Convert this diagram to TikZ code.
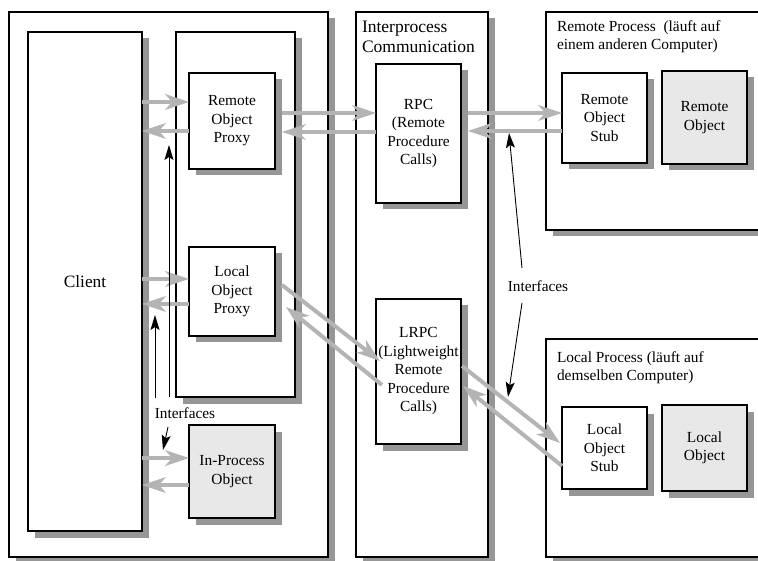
\documentclass[tikz,border=0pt]{standalone}
\usepackage{fontspec}
\setmainfont{Liberation Serif}
\usetikzlibrary{arrows.meta,shadows,calc}
\definecolor{shd}{HTML}{969696}
\definecolor{arr}{HTML}{B4B4B4}
\definecolor{lfill}{HTML}{E8E8E8}
\tikzset{
  box/.style={draw=black, line width=1.1pt, fill=white, rectangle, inner sep=0pt, outer sep=0pt,
    anchor=north west, align=center, font=\fontsize{15.4}{18.5}\selectfont,
    general shadow={fill=shd, shadow xshift=6.5pt, shadow yshift=-6.5pt}},
  objbox/.style={box, fill=lfill},
  hdr/.style={inner sep=0pt, outer sep=0pt, anchor=north west, align=left},
  lbl/.style={inner sep=0pt, outer sep=0pt, font=\fontsize{15.3}{18}\selectfont},
  garrow/.style={draw=arr, line width=4pt, -{Stealth[length=24pt,width=16pt,inset=7pt,line width=0pt]}},
  barrow/.style={draw=black, line width=0.9pt, -{Stealth[length=15pt,width=9pt,inset=3pt]}}
}
\begin{document}
\begin{tikzpicture}[x=1pt,y=-1pt]
\clip (0,0) rectangle (758,561);
\fill[white] (0,0) rectangle (758,561);
% left process
\node[box, minimum width=319pt, minimum height=545pt] (outer) at (9,12) {};
\node[box, minimum width=114pt, minimum height=499pt, font=\fontsize{17.3}{20}\selectfont] (client) at (28,32) {Client};
\node[box, minimum width=119pt, minimum height=365pt] (proxybox) at (176,32) {};
\node[box, minimum width=86pt, minimum height=96pt] (rop) at (189,73) {Remote\\Object\\Proxy};
\node[box, minimum width=86pt, minimum height=89pt] (lop) at (189,247) {Local\\Object\\Proxy};
\node[objbox, minimum width=86pt, minimum height=93pt] (inproc) at (189,425) {In-Process\\Object};
% interprocess communication
\node[box, minimum width=132pt, minimum height=545pt] (ipc) at (356,12) {};
\node[hdr, font=\fontsize{17.5}{20}\selectfont] (ipcl) at (362,21) {Interprocess\\Communication};
\node[box, minimum width=85pt, minimum height=139pt] (rpc) at (376,64) {RPC\\(Remote\\Procedure\\Calls)};
\node[box, minimum width=85pt, minimum height=145pt] (lrpc) at (376,299) {LRPC\\(Lightweight\\Remote\\Procedure\\Calls)};
% remote process
\node[box, minimum width=224pt, minimum height=218pt] (remproc) at (546,12) {};
\node[hdr, font=\fontsize{15.4}{18.5}\selectfont] (rempl) at (557,20.5) {Remote Process\ \ (läuft auf\\einem anderen Computer)};
\node[box, minimum width=85pt, minimum height=90pt] (ros) at (562,73) {Remote\\Object\\Stub};
\node[objbox, minimum width=85pt, minimum height=93pt] (ro) at (662,71) {Remote\\Object};
% local process
\node[box, minimum width=224pt, minimum height=218pt] (locproc) at (546,339) {};
\node[hdr, font=\fontsize{15.4}{18.5}\selectfont] (locpl) at (557,351.5) {Local Process (läuft auf\\demselben Computer)};
\node[box, minimum width=85pt, minimum height=82pt] (los) at (562,407) {Local\\Object\\Stub};
\node[objbox, minimum width=85pt, minimum height=86pt] (lo) at (662,405) {Local\\Object};
% labels
\node[lbl] (ifl) at (185,413) {Interfaces};
\node[lbl] (ifr) at (538,286) {Interfaces};
% gray arrows
\draw[garrow] (client.east |- 0,102) -- (rop.west |- 0,102);
\draw[garrow] (rop.west |- 0,131) -- (client.east |- 0,131);
\draw[garrow] ($(rop.east |- 0,113)+(7,0)$) -- (rpc.west |- 0,113);
\draw[garrow] (rpc.west |- 0,132) -- ($(rop.east |- 0,132)+(7,0)$);
\draw[garrow] ($(rpc.east |- 0,113)+(7,0)$) -- (ros.west |- 0,113);
\draw[garrow] (ros.west |- 0,131) -- ($(rpc.east |- 0,131)+(7,0)$);
\draw[garrow] (client.east |- 0,279) -- (lop.west |- 0,279);
\draw[garrow] (lop.west |- 0,304) -- (client.east |- 0,304);
\draw[garrow] ($(lop.north east)+(7,38)$) -- ($(lrpc.north west)+(4,62)$);
\draw[garrow] ($(lrpc.north west)+(6,86)$) -- ($(lop.north east)+(11,60)$);
\draw[garrow] ($(lrpc.north east)+(1,67)$) -- ($(los.north west)+(-2,36)$);
\draw[garrow] ($(los.north west)+(0,59)$) -- ($(lrpc.north east)+(2,87)$);
\draw[garrow] (client.east |- 0,458) -- (inproc.west |- 0,458);
\draw[garrow] (inproc.west |- 0,485) -- (client.east |- 0,485);
% black interface arrows
\coordinate (a1s) at (169,397); \coordinate (a1e) at (169,145);
\coordinate (a2s) at (155,398); \coordinate (a2e) at (155,315);
\coordinate (a3s) at (168,427); \coordinate (a3e) at (163,450);
\coordinate (a4s) at (522,268); \coordinate (a4e) at (509,133);
\coordinate (a5s) at (522,303); \coordinate (a5e) at (508,397);
\draw[barrow] (a1s) -- (a1e);
\draw[barrow] (a2s) -- (a2e);
\draw[barrow] (a3s) -- (a3e);
\draw[barrow] (a4s) -- (a4e);
\draw[barrow] (a5s) -- (a5e);
\end{tikzpicture}
\end{document}
